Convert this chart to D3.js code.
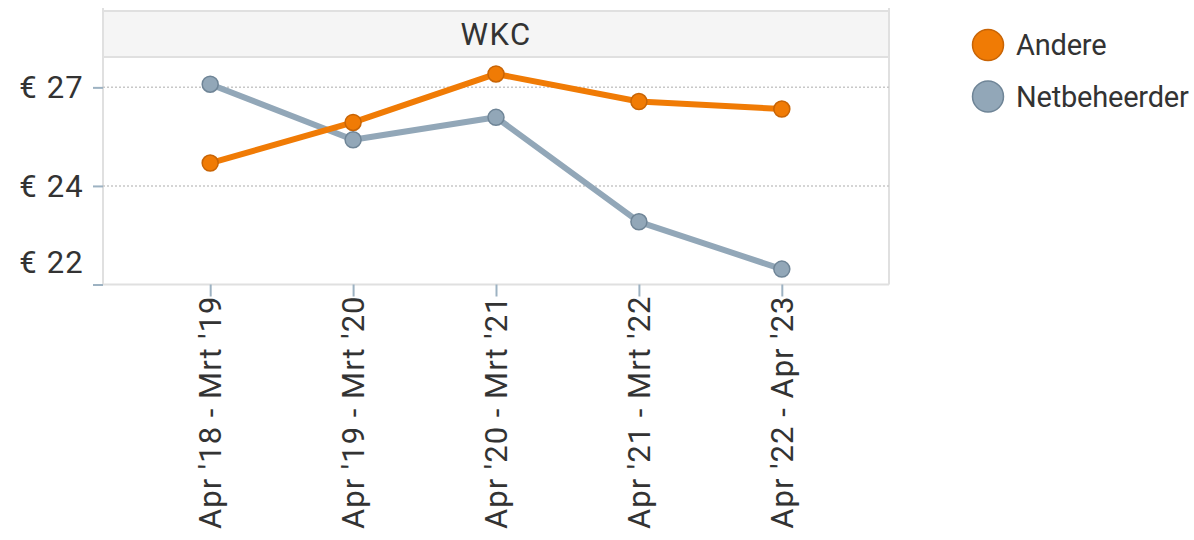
<!DOCTYPE html>
<html>
<head>
<meta charset="utf-8">
<script src="https://cdn.jsdelivr.net/npm/d3@7"></script>
<style>
  html, body { margin: 0; padding: 0; background: #fff; }
  svg { display: block; font-family: Roboto, "Noto Sans", sans-serif; }
</style>
</head>
<body>
<svg id="chart" width="1194" height="540"></svg>
<script>
// Periods on the x axis
const periods = ["Apr '18 - Mrt '19", "Apr '19 - Mrt '20", "Apr '20 - Mrt '21", "Apr '21 - Mrt '22", "Apr '22 - Apr '23"];
// Series values (€)
const andere = [24.58, 25.61, 26.84, 26.14, 25.95];
const netbeheerder = [26.58, 25.17, 25.74, 23.09, 21.89];
const seriesNames = ["Andere", "Netbeheerder"];
const seriesColors = ["#F07B05", "#92A7B8"];
const seriesStroke = ["#C86405", "#6F8597"];
// Y axis ticks and their labels
const yTickValues = [21.5, 24, 26.5];
const yTickLabels = ["€ 22", "€ 24", "€ 27"];
const panelTitle = "WKC";

(function () {
  const svg = d3.select("#chart");
  const axisFont = 31;

  // Plot area
  const plotLeft = 103, plotRight = 889, headerTop = 11, plotTop = 57, plotBottom = 284.5;

  const x = d3.scalePoint().domain(periods).range([plotLeft, plotRight]).padding(0.75);
  const y = d3.scaleLinear().domain([21.5, 27.27]).range([plotBottom, plotTop]);

  // Header strip
  svg.append("rect")
    .attr("x", plotLeft).attr("y", headerTop)
    .attr("width", plotRight - plotLeft).attr("height", plotTop - headerTop)
    .attr("fill", "#f5f5f5").attr("stroke", "#e0e0e0").attr("stroke-width", 2);
  svg.append("text")
    .attr("x", (plotLeft + plotRight) / 2).attr("y", (headerTop + plotTop) / 2)
    .attr("text-anchor", "middle").attr("dominant-baseline", "central")
    .attr("font-size", axisFont).attr("letter-spacing", 1.5).attr("fill", "#333")
    .text(panelTitle);

  // Pane borders
  svg.append("line").attr("x1", plotLeft).attr("x2", plotLeft).attr("y1", 8).attr("y2", plotBottom)
    .attr("stroke", "#e0e0e0").attr("stroke-width", 2);
  svg.append("line").attr("x1", plotRight).attr("x2", plotRight).attr("y1", 8).attr("y2", plotBottom)
    .attr("stroke", "#e0e0e0").attr("stroke-width", 2);

  // Horizontal grid lines (dotted)
  svg.append("g").selectAll("line")
    .data(yTickValues.filter(v => y(v) < plotBottom - 2))
    .join("line")
    .attr("x1", plotLeft).attr("x2", plotRight)
    .attr("y1", d => y(d)).attr("y2", d => y(d))
    .attr("stroke", "#c8c8c8").attr("stroke-width", 1.5)
    .attr("stroke-dasharray", "2,2");

  // Bottom axis line
  svg.append("line").attr("x1", plotLeft).attr("x2", plotRight).attr("y1", plotBottom).attr("y2", plotBottom)
    .attr("stroke", "#e0e0e0").attr("stroke-width", 2);

  // Y axis
  const yAxis = d3.axisLeft(y).tickValues(yTickValues).tickSize(10).tickPadding(9)
    .tickFormat((d, i) => yTickLabels[i]);
  const gy = svg.append("g").attr("transform", `translate(${plotLeft},0)`).call(yAxis);
  gy.select(".domain").remove();
  gy.selectAll(".tick line").attr("stroke", "#9db2c2").attr("stroke-width", 2);
  gy.selectAll(".tick text")
    .attr("font-size", axisFont).attr("letter-spacing", 1.2)
    .attr("font-family", "Roboto, sans-serif").attr("fill", "#333")
    .attr("dy", null).attr("dominant-baseline", "central")
    .attr("y", d => Math.min(0, (plotBottom - 23) - y(d)));

  // X axis
  const xAxis = d3.axisBottom(x).tickSize(12).tickPadding(0);
  const gx = svg.append("g").attr("transform", `translate(0,${plotBottom})`).call(xAxis);
  gx.select(".domain").remove();
  gx.selectAll(".tick line").attr("stroke", "#9db2c2").attr("stroke-width", 2);
  gx.selectAll(".tick text")
    .attr("font-size", axisFont).attr("letter-spacing", 1)
    .attr("font-family", "Roboto, sans-serif").attr("fill", "#333")
    .attr("transform", "rotate(-90)")
    .attr("x", -11).attr("y", 0).attr("dy", null)
    .attr("dominant-baseline", "central")
    .attr("text-anchor", "end");

  // Lines and markers (orange drawn last so it sits on top)
  const series = [andere, netbeheerder];
  const line = d3.line().x((d, i) => x(periods[i])).y(d => y(d));
  [1, 0].forEach(s => {
    svg.append("path")
      .datum(series[s])
      .attr("d", line)
      .attr("fill", "none")
      .attr("stroke", seriesColors[s])
      .attr("stroke-width", 6)
      .attr("stroke-linejoin", "round");
  });
  [1, 0].forEach(s => {
    svg.append("g").selectAll("circle")
      .data(series[s])
      .join("circle")
      .attr("cx", (d, i) => x(periods[i]))
      .attr("cy", d => y(d))
      .attr("r", 8)
      .attr("fill", seriesColors[s])
      .attr("stroke", seriesStroke[s])
      .attr("stroke-width", 1.5);
  });

  // Legend
  const legend = svg.append("g");
  seriesNames.forEach((name, i) => {
    const cy = 45 + i * 51.5;
    legend.append("circle")
      .attr("cx", 988).attr("cy", cy).attr("r", 15.5)
      .attr("fill", seriesColors[i]).attr("stroke", seriesStroke[i]).attr("stroke-width", 1.5);
    legend.append("text")
      .attr("x", 1016).attr("y", cy)
      .attr("dominant-baseline", "central")
      .attr("font-size", 29).attr("letter-spacing", -0.2).attr("fill", "#333")
      .text(name);
  });
})();
</script>
</body>
</html>
